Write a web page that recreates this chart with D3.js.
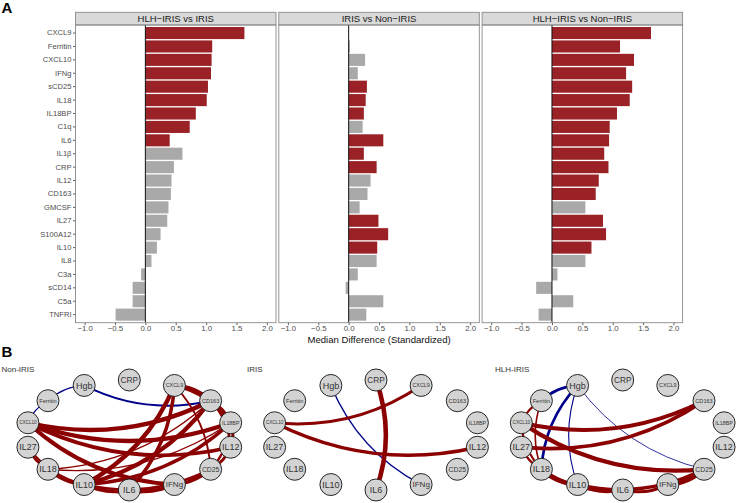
<!DOCTYPE html>
<html><head><meta charset="utf-8">
<script src="https://cdn.jsdelivr.net/npm/d3@7"></script>
<style>body{margin:0;background:#fff;} svg{display:block;font-family:"Liberation Sans",Arial,sans-serif;}</style>
</head><body>
<svg id="c" width="740" height="503"></svg>
<script>
// ---------- DATA ----------
const markers = ["CXCL9","Ferritin","CXCL10","IFNg","sCD25","IL18","IL18BP","C1q","IL6","IL1β","CRP","IL12","CD163","GMCSF","IL27","S100A12","IL10","IL8","C3a","sCD14","C5a","TNFRI"];
const comparisons = ["HLH−IRIS vs IRIS","IRIS vs Non−IRIS","HLH−IRIS vs Non−IRIS"];
const diffHlhVsIris   = [1.63,1.10,1.09,1.08,1.03,1.01,0.83,0.73,0.40,0.61,0.47,0.43,0.42,0.38,0.36,0.25,0.19,0.10,-0.07,-0.21,-0.21,-0.49];
const sigHlhVsIris    = [1,1,1,1,1,1,1,1,1,0,0,0,0,0,0,0,0,0,0,0,0,0];
const diffIrisVsNon   = [0,0.02,0.27,0.15,0.30,0.28,0.25,0.23,0.57,0.25,0.46,0.36,0.31,0.18,0.49,0.65,0.47,0.46,0.15,-0.05,0.57,0.29];
const sigIrisVsNon    = [0,0,0,0,1,1,1,0,1,1,1,0,0,0,1,1,1,0,0,0,0,0];
const diffHlhVsNon    = [1.63,1.12,1.35,1.22,1.32,1.28,1.07,0.95,0.94,0.86,0.93,0.77,0.72,0.55,0.84,0.89,0.65,0.55,0.09,-0.26,0.35,-0.22];
const sigHlhVsNon     = [1,1,1,1,1,1,1,1,1,1,1,1,1,0,1,1,1,0,0,0,0,0];
const xTicks = [-1.0,-0.5,0.0,0.5,1.0,1.5,2.0];
const xDomain = [-1.0,2.0];

const networkNodes = ["CRP","CXCL9","CD163","IL18BP","IL12","CD25","IFNg","IL6","IL10","IL18","IL27","CXCL10","Ferritin","Hgb"];
const networkGroups = ["Non-IRIS","IRIS","HLH-IRIS"];
// edges: [source, target, correlation]
const edgesNonIris = [
  ["Hgb","Ferritin",-0.25],["Ferritin","CXCL10",-0.2],["Hgb","CD163",-0.35],
  ["CXCL10","CD163",0.8],["CXCL10","IL18BP",0.8],["CXCL10","IL12",0.7],["CXCL10","IFNg",0.75],
  ["CXCL9","IL10",0.8],["CXCL9","IL6",0.65],["CD163","IL10",0.8],["IL18BP","IL10",0.65],
  ["IL18BP","IL18",0.25],["CD163","IL18",0.25],["CXCL9","CD25",0.35],
  ["CXCL9","CD163",0.7],["CD163","IL18BP",0.55],["IL18BP","IL12",0.55],["IL12","CD25",0.55],
  ["CD25","IFNg",0.5],["IFNg","IL6",0.5],["IL6","IL10",0.5],["IL10","IL18",0.5],["IL18","IL27",0.45],
  ["IL10","IFNg",0.5],["IL10","CD25",0.5],["CD163","IL12",0.45],["IL18BP","CD25",0.45],["IL6","CD25",0.45],
  ["IL27","IL10",0.4],["CXCL9","IL18BP",0.45]
];
const edgesIris = [
  ["Hgb","IFNg",-0.25],["CRP","IL6",0.85],["CXCL10","CXCL9",0.55],["CXCL10","IL12",0.65]
];
const edgesHlhIris = [
  ["Hgb","Ferritin",-0.5],["Hgb","IL18",-0.5],["Hgb","IL10",-0.2],["Hgb","CD25",-0.15],
  ["Ferritin","CXCL10",0.4],["Ferritin","IL18",0.3],["CXCL10","IL18",0.4],["IL27","IL18",0.4],
  ["CXCL10","CD163",0.75],["IL27","CD163",0.7],["CXCL10","CD25",0.8],
  ["IL18","IL10",0.8],["IL18","IL6",0.6],["IL10","IL6",0.5],["IL6","IFNg",0.55],
  ["IFNg","CD25",0.8],["IL10","CD25",0.6]
];

// ---------- DRAW ----------
const svg = d3.select("#c");
const RED = "#9A2226", GREY = "#A9A9A9";

// Panel A
const panelX0 = [75.5, 278.8, 482.1], panelW = 200.5, panelTop = 25, panelBot = 322.7, stripTop = 12.3;
const span = xDomain[1]-xDomain[0];
const x = d3.scaleLinear().domain([xDomain[0]-0.05*span, xDomain[1]+0.05*span]).range([0, panelW]);
const y = d3.scaleBand().domain(markers).range([panelTop, panelBot]).paddingInner(0.1).paddingOuter(0.15);
const series = [[diffHlhVsIris,sigHlhVsIris],[diffIrisVsNon,sigIrisVsNon],[diffHlhVsNon,sigHlhVsNon]];

svg.append("text").attr("x",1.5).attr("y",12.5).attr("font-size",15).attr("font-weight","bold").text("A");

series.forEach(([vals,sig],p)=>{
  const g = svg.append("g").attr("transform",`translate(${panelX0[p]},0)`);
  g.append("rect").attr("x",0).attr("y",panelTop).attr("width",panelW).attr("height",panelBot-panelTop).attr("fill","#fff");
  // strip
  g.append("rect").attr("x",0).attr("y",stripTop).attr("width",panelW).attr("height",panelTop-stripTop)
    .attr("fill","#D9D9D9").attr("stroke","#8a8a8a").attr("stroke-width",0.9);
  g.append("text").attr("x",panelW/2).attr("y",(stripTop+panelTop)/2+3.3).attr("text-anchor","middle")
    .attr("font-size",9.5).attr("fill","#1a1a1a").text(comparisons[p]);
  // bars
  g.selectAll("rect.bar").data(markers).join("rect").attr("class","bar")
    .attr("x",(d,i)=>x(Math.min(0,vals[i]))).attr("width",(d,i)=>Math.abs(x(vals[i])-x(0)))
    .attr("y",d=>y(d)).attr("height",y.bandwidth())
    .attr("fill",(d,i)=>sig[i]?RED:GREY);
  // zero line
  g.append("line").attr("x1",x(0)).attr("x2",x(0)).attr("y1",panelTop).attr("y2",panelBot).attr("stroke","#111").attr("stroke-width",1);
  // border
  g.append("rect").attr("x",0).attr("y",panelTop).attr("width",panelW).attr("height",panelBot-panelTop)
    .attr("fill","none").attr("stroke","#8a8a8a").attr("stroke-width",0.9);
  // x axis
  const ax = g.append("g").attr("transform",`translate(0,${panelBot})`)
    .call(d3.axisBottom(x).tickValues(xTicks).tickSize(2.5).tickPadding(0.6).tickFormat(d=>d3.format(".1f")(d).replace("-","−")));
  ax.select(".domain").remove();
  ax.selectAll("line").attr("stroke","#666");
  ax.selectAll("text").attr("font-size",7.8).attr("fill","#4d4d4d").attr("font-family","Liberation Sans, Arial, sans-serif");
  if(p===0){
    const ay = g.append("g").call(d3.axisLeft(y).tickSize(2.5).tickPadding(1.5));
    ay.select(".domain").remove();
    ay.selectAll("line").attr("stroke","#666");
    ay.selectAll("text").attr("font-size",7.6).attr("fill","#4d4d4d").attr("font-family","Liberation Sans, Arial, sans-serif");
  }
});
svg.append("text").attr("x",(panelX0[0]+panelX0[2]+panelW)/2).attr("y",342.5).attr("text-anchor","middle")
  .attr("font-size",9.6).attr("fill","#111").text("Median Difference (Standardized)");

// Panel B
svg.append("text").attr("x",1.5).attr("y",357).attr("font-size",15).attr("font-weight","bold").text("B");
const netCx = [129.3, 376, 622.7], netCy = 435, rx = 104, ry = 55, nodeR = 11;
const allEdges = [edgesNonIris, edgesIris, edgesHlhIris];
const labelX = [1.5, 247, 495];
const wScale = d3.scaleLinear().domain([0,1]).range([0,5.4]);
const curv = 0.18;
networkGroups.forEach((grp,gi)=>{
  const g = svg.append("g");
  const pos = {};
  networkNodes.forEach((n,k)=>{
    const a = Math.PI/2 - k*2*Math.PI/networkNodes.length;
    pos[n] = {x: netCx[gi]+rx*Math.cos(a), y: netCy - ry*Math.sin(a), k};
  });
  g.append("text").attr("x",labelX[gi]).attr("y",371.5).attr("font-size",8).attr("fill","#333").text(grp);
  const edges = allEdges[gi].map(([s,t,w])=>{
    // orient from higher index to lower index
    let a = pos[s], b = pos[t];
    if(a.k < b.k){ const tmp=a; a=b; b=tmp; }
    return {a,b,w};
  });
  g.selectAll("path.e").data(edges).join("path").attr("class","e")
    .attr("d",e=>{
      const dx=e.b.x-e.a.x, dy=e.b.y-e.a.y;
      const mx=(e.a.x+e.b.x)/2 + curv*(-dy), my=(e.a.y+e.b.y)/2 + curv*(dx);
      return `M${e.a.x},${e.a.y}Q${mx},${my} ${e.b.x},${e.b.y}`;
    })
    .attr("fill","none").attr("stroke",e=>e.w>0?"#8B0000":"#00008B")
    .attr("stroke-width",e=>Math.max(0.7,wScale(Math.abs(e.w))));
  const nodes = g.selectAll("g.n").data(networkNodes).join("g").attr("class","n")
    .attr("transform",d=>`translate(${pos[d].x},${pos[d].y})`);
  nodes.append("circle").attr("r",nodeR).attr("fill","#D3D3D3").attr("stroke","#111").attr("stroke-width",0.9);
  nodes.append("text").attr("text-anchor","middle").attr("font-size",9).attr("fill","#333").text(d=>d)
    .each(function(){
      const w = this.getComputedTextLength();
      const fs = Math.min(9, 9*17.5/w);
      d3.select(this).attr("font-size",fs).attr("dy",fs*0.35);
    });
});
</script>
</body></html>
